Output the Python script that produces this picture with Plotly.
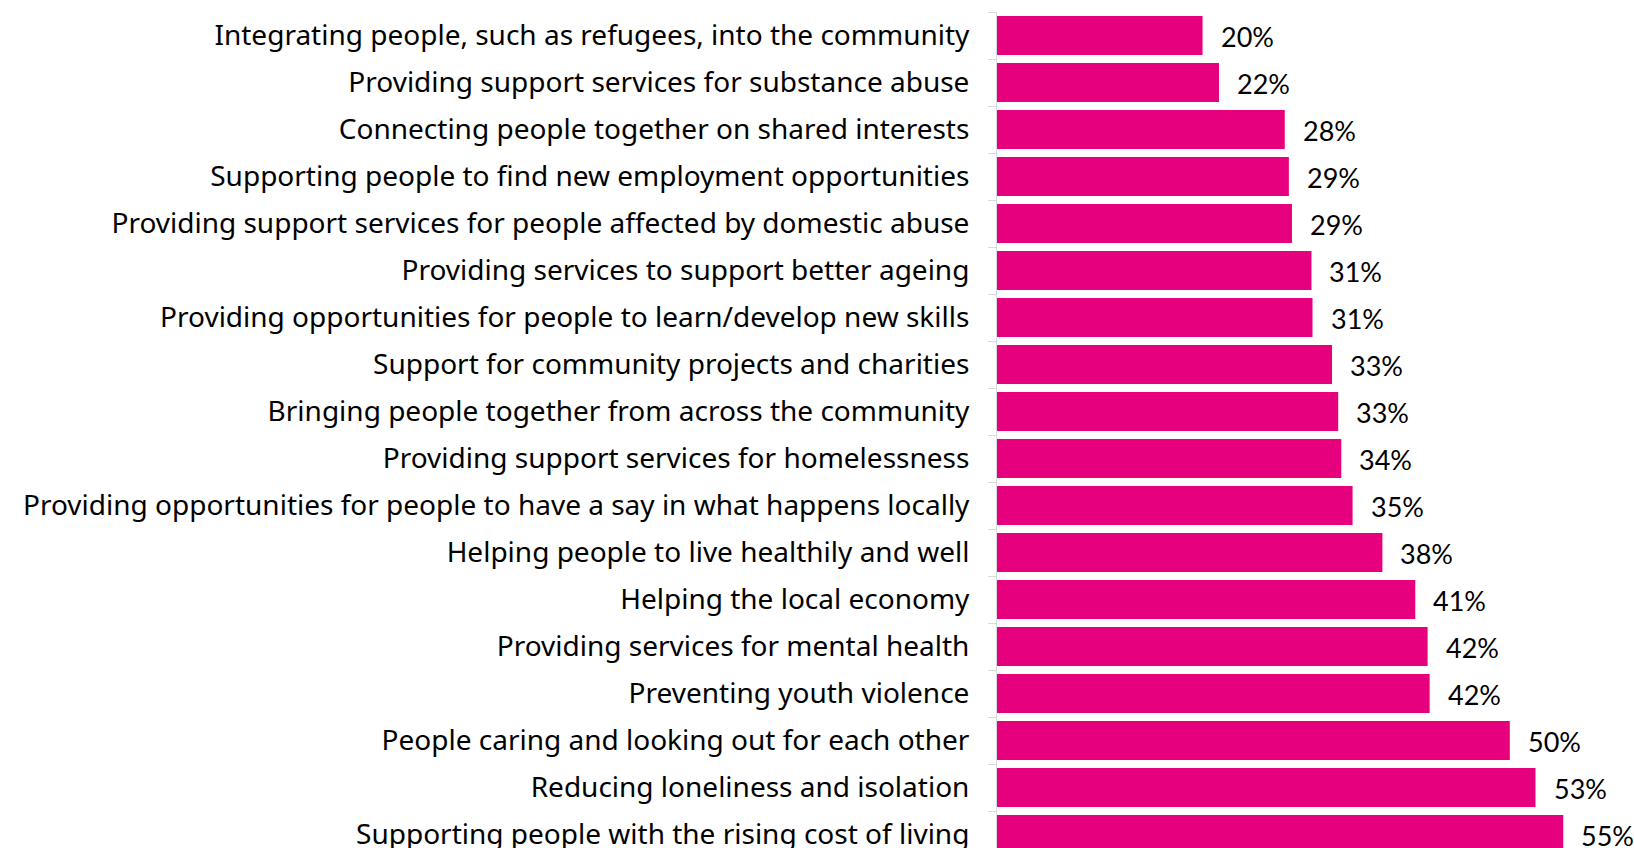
import plotly.graph_objects as go

categories = [
    "Integrating people, such as refugees, into the community",
    "Providing support services for substance abuse",
    "Connecting people together on shared interests",
    "Supporting people to find new employment opportunities",
    "Providing support services for people affected by domestic abuse",
    "Providing services to support better ageing",
    "Providing opportunities for people to learn/develop new skills",
    "Support for community projects and charities",
    "Bringing people together from across the community",
    "Providing support services for homelessness",
    "Providing opportunities for people to have a say in what happens locally",
    "Helping people to live healthily and well",
    "Helping the local economy",
    "Providing services for mental health",
    "Preventing youth violence",
    "People caring and looking out for each other",
    "Reducing loneliness and isolation",
    "Supporting people with the rising cost of living",
]
values = [20.0, 21.6, 28.0, 28.4, 28.7, 30.6, 30.7, 32.6, 33.2, 33.5, 34.6,
          37.5, 40.7, 41.9, 42.1, 49.9, 52.4, 55.1]
value_labels = ["20%", "22%", "28%", "29%", "29%", "31%", "31%", "33%", "33%",
                "34%", "35%", "38%", "41%", "42%", "42%", "50%", "53%", "55%"]

W, H = 1634, 848
ML, MR, MT, MB = 997, 2, 12, 0
pitch = 47.0
n_visible = (H - MT - MB) / pitch
px_per_pct = 10.277
xmax = (W - ML - MR) / px_per_pct

fig = go.Figure()
fig.add_trace(go.Bar(
    y=categories, x=values, orientation="h",
    marker=dict(color="#E6007E", line=dict(width=0)),
    hoverinfo="skip",
))
for c, v, t in zip(categories, values, value_labels):
    fig.add_annotation(x=v, y=c, text=t, showarrow=False, xanchor="left",
                       xshift=16, yshift=-1,
                       font=dict(family="Lato", size=27, color="#000000"))

fig.update_layout(
    width=W, height=H,
    margin=dict(l=ML, r=MR, t=MT, b=MB, pad=0, autoexpand=False),
    plot_bgcolor="white", paper_bgcolor="white",
    bargap=0.17, showlegend=False,
)
fig.update_xaxes(range=[0, xmax], visible=False, fixedrange=True,
                 automargin=False)
fig.update_yaxes(
    categoryorder="array", categoryarray=categories,
    range=[-0.5 + n_visible, -0.5], automargin=False,
    showline=True, linecolor="#d9d9d9", linewidth=1,
    ticks="outside", tickson="boundaries", ticklen=8, tickcolor="#d9d9d9",
    ticklabelstandoff=21,
    tickfont=dict(family="Noto Sans", size=28, color="#000000"),
    showgrid=False, zeroline=False, fixedrange=True,
)
fig.write_html(
    "out.html",
    config={"displayModeBar": False},
    post_script="document.body.style.margin='0';document.body.style.overflow='hidden';",
)
